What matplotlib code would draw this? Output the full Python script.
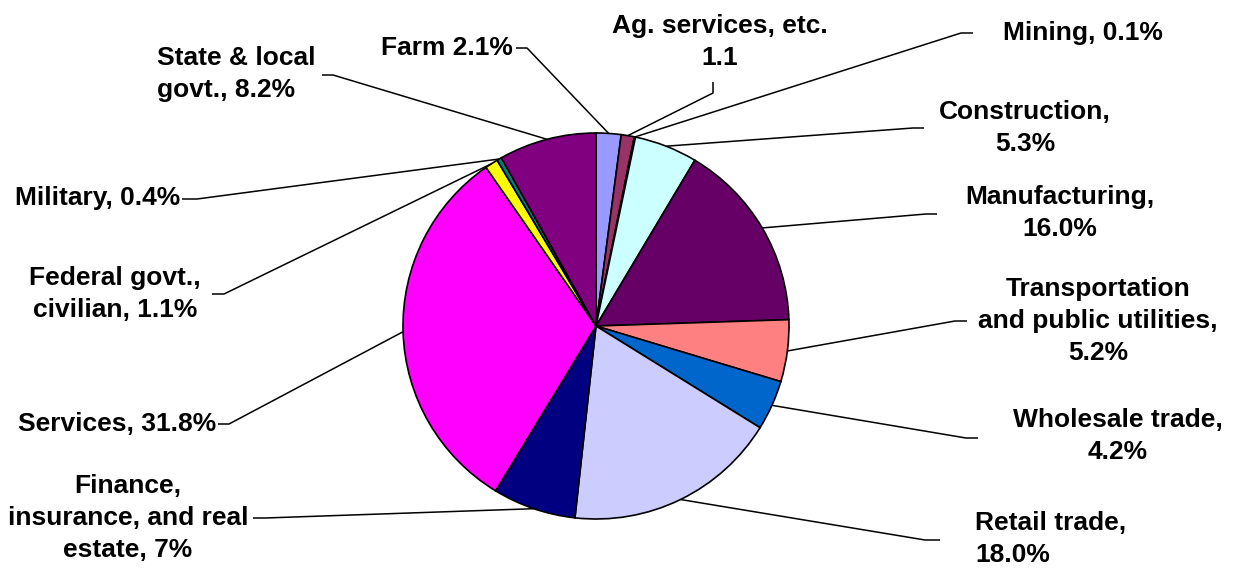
import matplotlib.pyplot as plt
import numpy as np

# Share of earnings by industry (percent)
sectors = ['Farm', 'Ag. services, etc.', 'Mining', 'Construction', 'Manufacturing',
           'Transportation and public utilities', 'Wholesale trade', 'Retail trade',
           'Finance, insurance, and real estate', 'Services',
           'Federal govt., civilian', 'Military', 'State & local govt.']
shares = [2.1, 1.1, 0.1, 5.3, 16.0, 5.2, 4.2, 18.0, 7, 31.8, 1.1, 0.4, 8.2]
labels = ['Farm 2.1%', 'Ag. services, etc.\n1.1', 'Mining, 0.1%', 'Construction,\n5.3%',
          'Manufacturing,\n16.0%', 'Transportation\nand public utilities,\n5.2%',
          'Wholesale trade,\n4.2%', 'Retail trade,\n18.0%',
          'Finance,\ninsurance, and real\nestate, 7%', 'Services, 31.8%',
          'Federal govt.,\ncivilian, 1.1%', 'Military, 0.4%', 'State & local\ngovt., 8.2%']
colors = ['#9999FF', '#993366', '#FFFFCC', '#CCFFFF', '#660066', '#FF8080', '#0066CC',
          '#CCCCFF', '#000080', '#FF00FF', '#FFFF00', '#008080', '#800080']

# label placement in pixel coords: text (x, y, ha), leader start and elbow
text_pos = [(513, 48, 'right'), (720, 42, 'center'), (1003, 33, 'left'),
            (1025, 128, 'center'), (1060, 213, 'center'), (1098, 321, 'center'),
            (1118, 436, 'center'), (975, 539, 'left'), (128, 518, 'center'),
            (216, 424, 'right'), (115, 294, 'center'), (180, 198, 'right'),
            (157, 74, 'left')]
leader = [((516, 48), (527, 48)), ((713, 82), (713, 93)), ((973, 33), (961, 33)),
          ((924, 128), (913, 128)), ((937, 214), (926, 214)), ((967, 321), (955, 321)),
          ((978, 438), (966, 438)), ((940, 540), (925, 540)), ((253, 518), (265, 518)),
          ((218, 424), (229, 424)), ((212, 294), (224, 294)), ((182, 199), (197, 199)),
          ((322, 75), (333, 75))]

W, H = 1239, 569
cx, cy, R = 596, 326, 193

fig = plt.figure(figsize=(W / 100, H / 100), dpi=100)
ax = fig.add_axes([0, 0, 1, 1])

# y axis runs downward, so start at -90 and go "counterclockwise" = clockwise on screen
wedges, _ = ax.pie(shares, colors=colors, startangle=-90, counterclock=True,
                   center=(cx, cy), radius=R,
                   wedgeprops=dict(edgecolor='black', linewidth=1.2))
ax.set_xlim(0, W)
ax.set_ylim(H, 0)
ax.set_aspect('equal')
ax.axis('off')

for w, lab, (tx, ty, ha), (p0, p1) in zip(wedges, labels, text_pos, leader):
    mid = np.deg2rad((w.theta1 + w.theta2) / 2)
    ex, ey = cx + R * np.cos(mid), cy + R * np.sin(mid)
    ax.plot([p0[0], p1[0], ex], [p0[1], p1[1], ey], color='black', lw=1.1,
            solid_capstyle='butt', zorder=1)
    ax.text(tx, ty, lab, ha=ha, va='center', multialignment='center' if ha == 'center' else ha,
            fontsize=19, fontweight='bold', family='Liberation Sans', color='black',
            linespacing=1.42)

fig.savefig('out.png', dpi=100)
